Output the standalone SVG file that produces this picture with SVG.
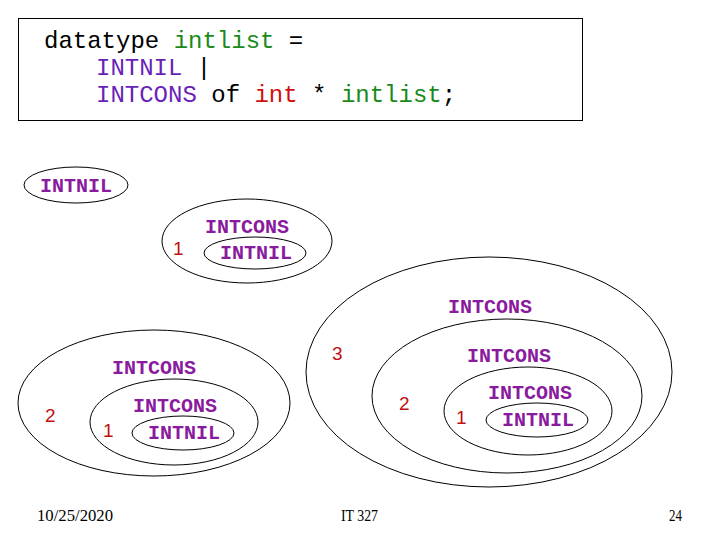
<svg xmlns="http://www.w3.org/2000/svg" width="720" height="540" viewBox="0 0 720 540">
<style>
.code{font-family:"Liberation Mono","Courier New",monospace;font-size:24px;}
.k{fill:#000;}
.g{fill:#1a8a1a;}
.p{fill:#6a1fb8;}
.r{fill:#d01010;}
.lbl{font-family:"Liberation Mono","Courier New",monospace;font-size:20px;font-weight:bold;fill:#8a1a9e;}
.num{font-family:"Liberation Sans",Arial,sans-serif;font-size:19px;fill:#c01010;}
.foot{font-family:"Liberation Serif","Times New Roman",serif;font-size:17px;fill:#000;}
ellipse{fill:none;stroke:#000;stroke-width:1;}
</style>
<rect width="720" height="540" fill="#fff"/>
<g id="code-box">
<rect x="18.5" y="18.5" width="564" height="102" fill="#fff" stroke="#000" stroke-width="1"/>
<text class="code" x="44" y="48" xml:space="preserve"><tspan class="k">datatype </tspan><tspan class="g">intlist</tspan><tspan class="k"> =</tspan></text>
<text class="code" x="96" y="75" xml:space="preserve"><tspan class="p">INTNIL</tspan><tspan class="k"> |</tspan></text>
<text class="code" x="96" y="102" xml:space="preserve"><tspan class="p">INTCONS</tspan><tspan class="k"> of </tspan><tspan class="r">int</tspan><tspan class="k"> * </tspan><tspan class="g">intlist</tspan><tspan class="k">;</tspan></text>
</g>
<g id="list0">
<ellipse cx="76" cy="185" rx="52" ry="18"/>
<text class="lbl" x="40" y="192">INTNIL</text>
</g>
<g id="list1">
<ellipse cx="247" cy="241" rx="85" ry="42"/>
<text class="lbl" x="205" y="233">INTCONS</text>
<text class="num" x="173" y="255">1</text>
<ellipse cx="255" cy="253" rx="51" ry="16"/>
<text class="lbl" x="220" y="259">INTNIL</text>
</g>
<g id="list2">
<ellipse cx="154" cy="403" rx="136" ry="73"/>
<text class="lbl" x="112" y="374">INTCONS</text>
<text class="num" x="45" y="422">2</text>
<ellipse cx="174" cy="422" rx="84" ry="43"/>
<text class="lbl" x="133" y="412">INTCONS</text>
<text class="num" x="103" y="437">1</text>
<ellipse cx="183" cy="433" rx="51" ry="17"/>
<text class="lbl" x="148" y="439">INTNIL</text>
</g>
<g id="list3">
<ellipse cx="489" cy="372" rx="183" ry="115"/>
<text class="lbl" x="448" y="313">INTCONS</text>
<text class="num" x="332" y="360">3</text>
<ellipse cx="507" cy="396" rx="135" ry="77"/>
<text class="lbl" x="467" y="362">INTCONS</text>
<text class="num" x="399" y="410">2</text>
<ellipse cx="528" cy="411" rx="84" ry="44"/>
<text class="lbl" x="488" y="399">INTCONS</text>
<text class="num" x="456" y="424">1</text>
<ellipse cx="537" cy="420" rx="51" ry="17"/>
<text class="lbl" x="502" y="426">INTNIL</text>
</g>
<g id="connectors"></g>
<g id="footer">
<text class="foot" x="37" y="521" textLength="76" lengthAdjust="spacingAndGlyphs">10/25/2020</text>
<text class="foot" x="341" y="521" textLength="37" lengthAdjust="spacingAndGlyphs">IT 327</text>
<text class="foot" x="669" y="521" textLength="13" lengthAdjust="spacingAndGlyphs">24</text>
</g>
</svg>
